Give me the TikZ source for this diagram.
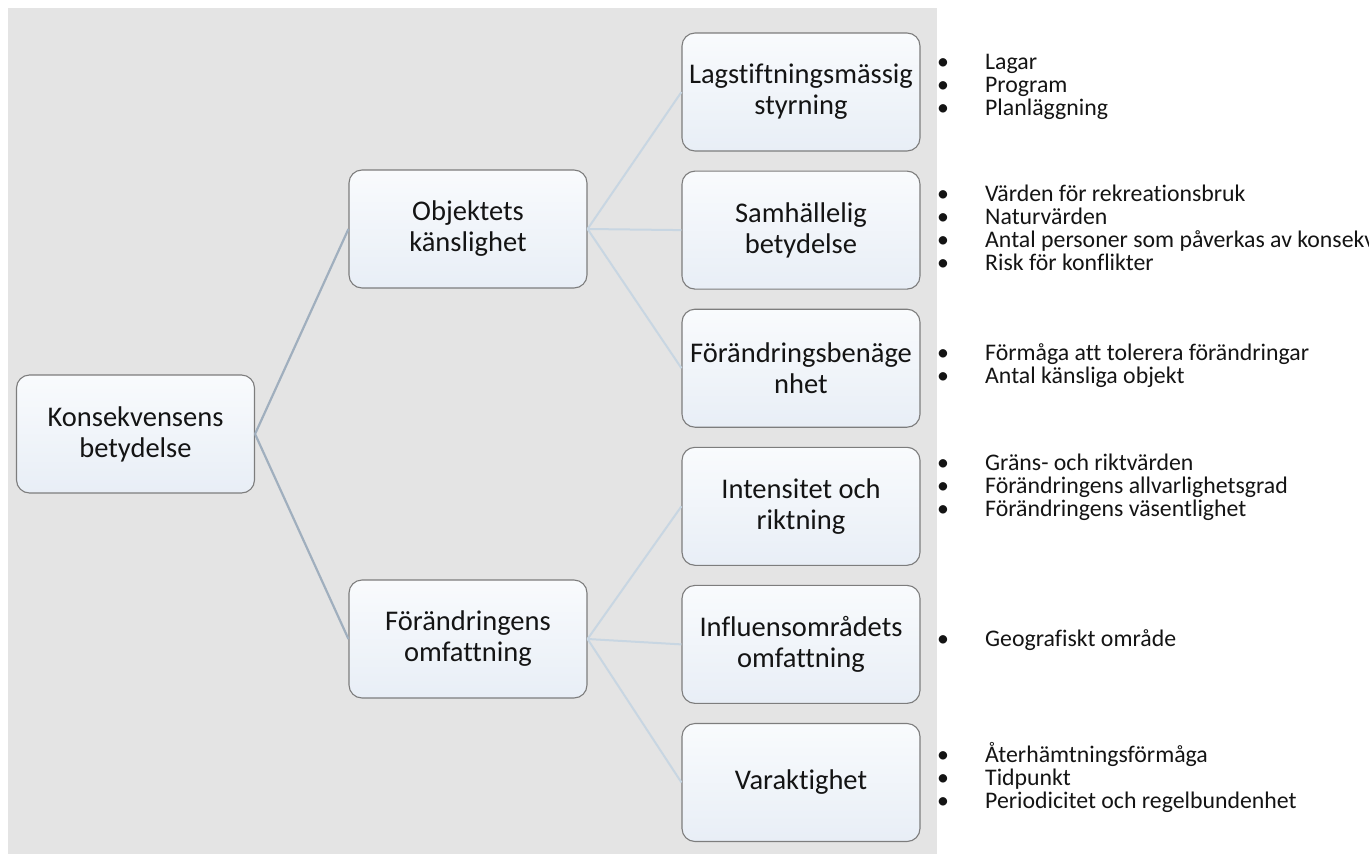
\documentclass[tikz,border=0pt]{standalone}
\usepackage{fontspec}
\setmainfont{Carlito}[Ligatures={NoCommon}]
\usetikzlibrary{positioning}
\definecolor{panel}{RGB}{228,228,228}
\definecolor{boxline}{RGB}{125,125,125}
\definecolor{boxtop}{RGB}{249,251,253}
\definecolor{boxbot}{RGB}{232,238,246}
\definecolor{linkdark}{RGB}{160,175,190}
\definecolor{linklight}{RGB}{200,214,226}
\definecolor{ink}{RGB}{20,20,20}
\tikzstyle{topic}=[draw=boxline,line width=1.1pt,rounded corners=13pt,top color=boxtop,bottom color=boxbot,minimum width=238pt,minimum height=118pt,inner xsep=2pt,align=center,text=ink,font=\fontsize{28.5}{31}\selectfont]
\tikzstyle{branch}=[linkdark,line width=2.2pt]
\tikzstyle{twig}=[linklight,line width=2pt]
\tikzstyle{notes}=[anchor=west,inner sep=0pt,align=left,text=ink,font=\fontsize{23.8}{23}\selectfont]
\newcommand{\punkt}[1]{\makebox[48pt][l]{\textbullet}#1}

\begin{document}
\begin{tikzpicture}[x=1pt,y=-1pt,node distance=19pt]
    \useasboundingbox (0,0) rectangle (1369,854);
    \fill[panel] (8,8) rectangle (937,854);

    \node (K) [topic] at (135.5,434) {Konsekvensens\\betydelse};
    \node (O) [topic] at (468,229) {Objektets\\känslighet};
    \node (F) [topic] at (468,639) {Förändringens\\omfattning};

    \node (L) [topic] at (801,92) {Lagstiftningsmässig\\styrning};
    \node (S) [topic] [below=of L] {Samhällelig\\betydelse};
    \node (B) [topic] [below=of S] {Förändringsbenäge\\nhet};
    \node (I) [topic] [below=of B] {Intensitet och\\riktning};
    \node (G) [topic] [below=of I] {Influensområdets\\omfattning};
    \node (V) [topic] [below=of G] {Varaktighet};

    \draw[branch] (K.east) -- (O.west);
    \draw[branch] (K.east) -- (F.west);
    \foreach \n in {L,S,B} \draw[twig] (O.east) -- (\n.west);
    \foreach \n in {I,G,V} \draw[twig] (F.east) -- (\n.west);

    % punktlistor
    \node (nL) [notes] at (937,87) {\punkt{Lagar}\\\punkt{Program}\\\punkt{Planläggning}};
    \node (nS) [notes] at (937,228) {\punkt{Värden för rekreationsbruk}\\\punkt{Naturvärden}\\\punkt{Antal personer som påverkas av konsekv}\\\punkt{Risk för konflikter}};
    \node (nB) [notes] at (937,365.5) {\punkt{Förmåga att tolerera förändringar}\\\punkt{Antal känsliga objekt}};
    \node (nI) [notes] at (937,487) {\punkt{Gräns- och riktvärden}\\\punkt{Förändringens allvarlighetsgrad}\\\punkt{Förändringens väsentlighet}};
    \node (nG) [notes] at (937,640) {\punkt{Geografiskt område}};
    \node (nV) [notes] at (937,777) {\punkt{Återhämtningsförmåga}\\\punkt{Tidpunkt}\\\punkt{Periodicitet och regelbundenhet}};
\end{tikzpicture}
\end{document}
